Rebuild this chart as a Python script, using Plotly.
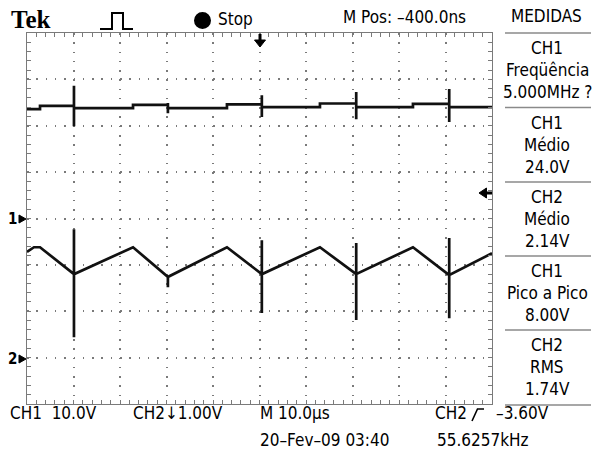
import plotly.graph_objects as go

# ---------------- data (time in microseconds, values in volts) ----------------
ch1_t = [0, 2.8, 2.8, 10.1, 10.1, 10.1, 10.1, 22.8, 22.8, 30.3, 30.3, 30.3, 30.3,
         43.0, 43.0, 50.5, 50.5, 50.5, 50.5, 63.0, 63.0, 70.8, 70.8, 70.8, 70.8,
         83.0, 83.0, 90.8, 90.8, 90.8, 90.8, 100]
ch1_v = [23.6, 23.6, 24.3, 24.3, 28.6, 19.9, 23.8, 23.8, 24.5, 24.5, 24.9, 22.7, 23.8,
         23.8, 24.6, 24.6, 26.6, 21.9, 24.0, 24.0, 24.8, 24.8, 27.3, 21.4, 24.0,
         24.0, 24.7, 24.7, 27.9, 20.8, 24.0, 24.0]

ch2_t = [0, 1.5, 2.8, 10.1, 10.1, 10.1, 10.1, 22.8, 30.3, 30.3, 30.3, 43.0,
         50.5, 50.5, 50.5, 50.5, 63.0, 70.8, 70.8, 70.8, 70.8, 83.0,
         90.8, 90.8, 90.8, 90.8, 100]
ch2_v = [2.28, 2.38, 2.38, 1.80, 2.77, 0.44, 1.80, 2.38, 1.74, 1.52, 1.74, 2.38,
         1.80, 2.53, 0.96, 1.80, 2.38, 1.80, 2.47, 0.81, 1.80, 2.38,
         1.78, 2.58, 0.85, 1.78, 2.25]

ch1_scale, ch1_pos = 10.0, 0.0      # V/div, divisions
ch2_scale, ch2_pos = 1.0, -3.0

top_labels = ["Tek", "Stop", "M Pos: \u2013400.0ns", "MEDIDAS"]
meas_lines = [["CH1", "Freq\u00fc\u00eancia", "5.000MHz ?"],
              ["CH1", "M\u00e9dio", "24.0V"],
              ["CH2", "M\u00e9dio", "2.14V"],
              ["CH1", "Pico a Pico", "8.00V"],
              ["CH2", "RMS", "1.74V"]]
bottom_labels = ["CH1  10.0V", "CH2\u21931.00V", "M 10.0\u00b5s", "CH2", "\u20133.60V",
                 "20\u2013Fev\u201309 03:40", "55.6257kHz"]

# ---------------- layout geometry ----------------
W, H = 592, 455
L, R, T, B = 27, 492, 33, 404
PW, PH = R - L, B - T


def X(px):
    return (px - L) / PW


def Y(py):
    return (B - py) / PH


FONT = "DejaVu Sans Condensed, Liberation Sans Narrow, Arial Narrow, sans-serif"
FS = 17
GRID = "#7a7a7a"

fig = go.Figure()
fig.add_trace(go.Scatter(x=ch1_t, y=[v / ch1_scale + ch1_pos for v in ch1_v],
                         mode="lines", line=dict(color="#111", width=2.7),
                         hoverinfo="skip"))
fig.add_trace(go.Scatter(x=ch2_t, y=[v / ch2_scale + ch2_pos for v in ch2_v],
                         mode="lines", line=dict(color="#111", width=2.7),
                         hoverinfo="skip"))

ax_common = dict(showticklabels=False, zeroline=False, fixedrange=True)

fig.update_layout(
    width=W, height=H,
    margin=dict(l=L, r=W - R, t=T, b=H - B, pad=0),
    paper_bgcolor="white", plot_bgcolor="white",
    showlegend=False,
    xaxis=dict(range=[0, 100], tick0=0, dtick=10, showgrid=True, gridcolor=GRID,
               gridwidth=1.5, griddash="1.5px,7.775px",
               ticks="inside", ticklen=4, tickcolor=GRID, tickwidth=1,
               showline=True, linecolor=GRID, linewidth=1, mirror="allticks",
               minor=dict(dtick=2, tick0=0, ticks="inside", ticklen=4,
                          tickcolor=GRID, tickwidth=1, showgrid=False),
               **ax_common),
    yaxis=dict(range=[-4, 4], tick0=0, dtick=1, showgrid=True, gridcolor=GRID,
               gridwidth=1.5, griddash="1.5px,7.8px",
               ticks="inside", ticklen=4, tickcolor=GRID, tickwidth=1,
               showline=True, linecolor=GRID, linewidth=1, mirror="allticks",
               minor=dict(dtick=0.2, tick0=0, ticks="inside", ticklen=4,
                          tickcolor=GRID, tickwidth=1, showgrid=False),
               **ax_common),
)

# centre-line tick marks (crossing ticks) via overlaid free axes
for name, ticks in (("xaxis2", "outside"), ("xaxis3", "inside")):
    fig.layout[name] = dict(overlaying="x", anchor="free", position=0.5,
                            range=[0, 100], tick0=0, dtick=10, showgrid=False,
                            ticks=ticks, ticklen=3, tickcolor=GRID, tickwidth=1,
                            showline=False,
                            minor=dict(dtick=2, tick0=0, ticks=ticks, ticklen=3,
                                       tickcolor=GRID, tickwidth=1, showgrid=False),
                            **ax_common)
for name, ticks in (("yaxis2", "outside"), ("yaxis3", "inside")):
    fig.layout[name] = dict(overlaying="y", anchor="free", position=0.5,
                            range=[-4, 4], tick0=0, dtick=1, showgrid=False,
                            ticks=ticks, ticklen=3, tickcolor=GRID, tickwidth=1,
                            showline=False,
                            minor=dict(dtick=0.2, tick0=0, ticks=ticks, ticklen=3,
                                       tickcolor=GRID, tickwidth=1, showgrid=False),
                            **ax_common)

ann = []


def text(s, px, py, size=FS, anchor="center", font=FONT, bold=False):
    ann.append(dict(text=("<b>%s</b>" % s) if bold else s, x=X(px), y=Y(py),
                    xref="paper", yref="paper", xanchor=anchor, yanchor="middle",
                    showarrow=False, font=dict(family=font, size=size, color="black")))


# top row
text(top_labels[0], 9, 20, size=25, anchor="left",
     font="Liberation Serif, DejaVu Serif, serif", bold=True)
text(top_labels[1], 216, 19, anchor="left")
text(top_labels[2], 341, 17, anchor="left")
text(top_labels[3], 546, 16)

# measurement panel
box_tops = [33, 107.5, 182, 256, 330]
for top, lines in zip(box_tops, meas_lines):
    for k, s in enumerate(lines):
        text(s, 547, top + 15 + 22 * k)

# bottom rows
text(bottom_labels[0], 8, 413, anchor="left")
text(bottom_labels[1], 131, 413, anchor="left")
text(bottom_labels[2], 258, 413, anchor="left")
text(bottom_labels[3], 433, 413, anchor="left")
text(bottom_labels[4], 494, 413, anchor="left")
text(bottom_labels[5], 258, 440, anchor="left")
text(bottom_labels[6], 435, 440, anchor="left")

# channel markers at left
text("1", 12, 219, size=15, bold=True)
text("2", 12, 359, size=15, bold=True)

fig.update_layout(annotations=ann)

shapes = []


def path(pts, closed=False, fill=None, width=2):
    d = "M " + " L ".join("%.5f,%.5f" % (X(a), Y(b)) for a, b in pts)
    if closed:
        d += " Z"
    shapes.append(dict(type="path", path=d, xref="paper", yref="paper",
                       line=dict(color="black", width=width),
                       fillcolor=fill if fill else "rgba(0,0,0,0)"))


# trigger pulse icon
path([(100, 29), (112, 29), (112, 13), (123, 13), (123, 29), (133, 29)], width=2)
# stop dot
shapes.append(dict(type="circle", xref="paper", yref="paper",
                   x0=X(194), x1=X(211), y0=Y(29), y1=Y(12),
                   fillcolor="black", line=dict(color="black", width=0)))
# trigger position arrow (top centre)
path([(260, 34), (260, 41)], width=3)
path([(254.5, 40), (265.5, 40), (260, 47)], closed=True, fill="black", width=1)
# trigger level arrow (right)
path([(486, 193), (492, 193)], width=3)
path([(479, 193), (486.5, 188), (486.5, 198)], closed=True, fill="black", width=1)
# channel ground markers
for gy in (219, 359):
    path([(19, gy - 4), (19, gy + 4), (26, gy)], closed=True, fill="black", width=1)
# rising-edge trigger slope symbol
path([(472, 421), (477.5, 409), (484, 409)], width=1.6)
# measurement panel separators
for sy in [33, 107.5, 182, 256, 330, 405]:
    shapes.append(dict(type="line", xref="paper", yref="paper",
                       x0=X(505), x1=X(591), y0=Y(sy), y1=Y(sy),
                       line=dict(color="#8a8a8a", width=1.5)))

fig.update_layout(shapes=shapes)

fig.write_html("out.html", config={"displayModeBar": False},
               post_script="document.body.style.margin='0';")
